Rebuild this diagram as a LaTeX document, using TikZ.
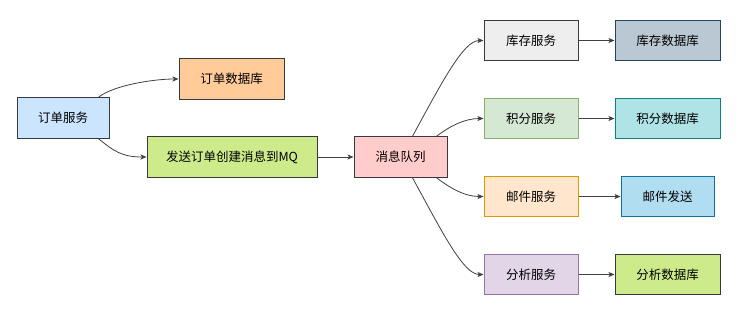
\documentclass[tikz,border=0pt]{standalone}
\usepackage{fontspec}
\setmainfont{Noto Sans CJK SC}
\usetikzlibrary{arrows.meta,calc}
\definecolor{dk}{HTML}{36393D}
\definecolor{fos}{HTML}{CCE5FF}
\definecolor{fodb}{HTML}{FFCC99}
\definecolor{fgreen}{HTML}{CDEB8B}
\definecolor{fmq}{HTML}{FFCCCC}
\definecolor{fkc}{HTML}{EEEEEE}
\definecolor{skcdb}{HTML}{23445D}
\definecolor{fkcdb}{HTML}{BAC8D3}
\definecolor{sjf}{HTML}{82B366}
\definecolor{fjf}{HTML}{D5E8D4}
\definecolor{sjfdb}{HTML}{0E8088}
\definecolor{fjfdb}{HTML}{B0E3E6}
\definecolor{syj}{HTML}{D79B00}
\definecolor{fyj}{HTML}{FFE6CC}
\definecolor{syjfs}{HTML}{10739E}
\definecolor{fyjfs}{HTML}{B1DDF0}
\definecolor{sfx}{HTML}{9673A6}
\definecolor{ffx}{HTML}{E1D5E7}
\tikzset{
  box/.style={draw=#1, line width=1pt, minimum height=40.5pt, inner sep=0pt, font=\fontsize{12.5}{14}\selectfont, text=black},
  conn/.style={draw=black!75, line width=0.8pt, -{Stealth[length=6pt,width=5pt,inset=1.5pt]}},
}
\begin{document}
\begin{tikzpicture}[x=1pt,y=-1pt]
\useasboundingbox (0,0) rectangle (742,322);
\node[box=dk, fill=fos, minimum width=92pt] (os) at (63,118) {订单服务};
\node[box=dk, fill=fodb, minimum width=105pt] (odb) at (231.5,79) {订单数据库};
\node[box=dk, fill=fgreen, minimum width=170pt] (send) at (232,157) {发送订单创建消息到MQ};
\node[box=dk, fill=fmq, minimum width=93pt] (mq) at (400.5,157) {消息队列};

\node[box=dk, fill=fkc, minimum width=94pt] (kc) at (531,40.5) {库存服务};
\node[box=skcdb, fill=fkcdb, minimum width=105pt] (kcdb) at (667.5,40.5) {库存数据库};
\node[box=sjf, fill=fjf, minimum width=94pt] (jf) at (531,118.5) {积分服务};
\node[box=sjfdb, fill=fjfdb, minimum width=105pt] (jfdb) at (667.5,118.5) {积分数据库};
\node[box=syj, fill=fyj, minimum width=94pt] (yj) at (531,196.5) {邮件服务};
\node[box=syjfs, fill=fyjfs, minimum width=93pt] (yjfs) at (667.5,196.5) {邮件发送};
\node[box=sfx, fill=ffx, minimum width=94pt] (fx) at (531,274.5) {分析服务};
\node[box=dk, fill=fgreen, minimum width=105pt] (fxdb) at (667.5,274.5) {分析数据库};

\draw[conn] ($(os.north east)+(-11,0)$) .. controls +(15,-12) and +(-25,0) .. (odb.west);
\draw[conn] ($(os.south east)+(-11,0)$) .. controls +(15,12) and +(-25,0) .. (send.west);
\draw[conn] (send.east) -- (mq.west);
\draw[conn] ($(mq.north west)+(59,0)$) .. controls +(30,-55) and +(-20,0) .. (kc.west);
\draw[conn] ($(mq.north west)+(83,0)$) .. controls +(12,-9) and +(-20,0) .. (jf.west);
\draw[conn] ($(mq.south west)+(83,0)$) .. controls +(12,9) and +(-20,0) .. (yj.west);
\draw[conn] ($(mq.south west)+(59,0)$) .. controls +(30,55) and +(-20,0) .. (fx.west);
\draw[conn] (kc.east) -- (kcdb.west);
\draw[conn] (jf.east) -- (jfdb.west);
\draw[conn] (yj.east) -- (yjfs.west);
\draw[conn] (fx.east) -- (fxdb.west);
\end{tikzpicture}
\end{document}
